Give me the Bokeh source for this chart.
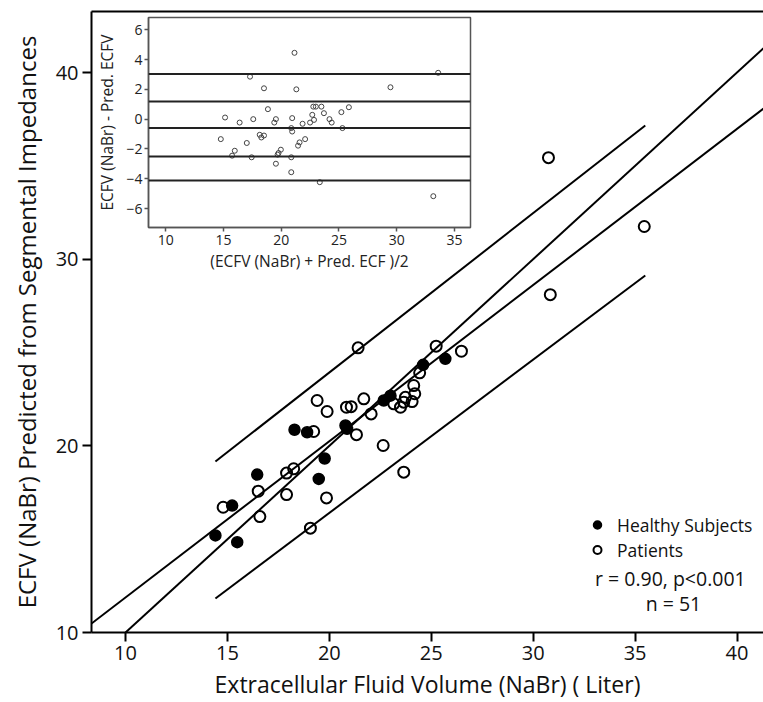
from bokeh.plotting import figure
from bokeh.models import (Range1d, FixedTicker, LinearAxis, Span, Legend,
                          LegendItem, Label)
from bokeh.layouts import column
from bokeh.embed import file_html
from bokeh.resources import INLINE

FONT = "Open Sans"

# ---------------- main scatter data ----------------
healthy_x = [25.69, 24.60, 22.67, 23.00, 20.79, 20.87, 18.29, 18.91, 19.77,
             16.46, 19.48, 15.23, 14.41, 15.48]
healthy_y = [24.66, 24.34, 22.43, 22.69, 21.09, 20.91, 20.86, 20.73, 19.32,
             18.46, 18.23, 16.80, 15.20, 14.84]

patient_x = [21.41, 25.24, 26.48, 24.43, 24.14, 24.19, 24.06, 23.73, 23.65,
             23.49, 23.16, 21.69, 20.84, 21.07, 19.40, 19.89, 22.05, 19.23,
             21.33, 22.64, 23.65, 17.90, 18.25, 16.51, 17.90, 19.86, 14.79,
             16.59, 19.07, 30.75, 35.45, 30.84]
patient_y = [25.25, 25.34, 25.07, 23.91, 23.23, 22.79, 22.37, 22.60, 22.34,
             22.07, 22.25, 22.52, 22.07, 22.10, 22.43, 21.84, 21.71, 20.77,
             20.60, 20.02, 18.59, 18.54, 18.77, 17.57, 17.39, 17.21, 16.71,
             16.21, 15.59, 35.44, 31.75, 28.10]

# lines (end points)
identity_x = [10.0, 41.3]
identity_y = [10.0, 41.3]
regression_x = [8.33, 41.3]
regression_y = [10.48, 38.07]
upper_band_x = [14.41, 35.5]
upper_band_y = [19.16, 37.16]
lower_band_x = [14.41, 35.5]
lower_band_y = [11.82, 29.13]

main_x_ticks = [10, 15, 20, 25, 30, 35, 40]
main_y_ticks = [10, 20, 30, 40]

# ---------------- inset (Bland-Altman) data ----------------
ba_mean = [21.15, 17.30, 18.51, 21.31, 29.46, 33.59, 33.17, 18.85, 15.14,
           16.40, 17.58, 19.54, 19.40, 20.95, 21.85, 22.50, 22.84, 22.78,
           23.00, 23.48, 22.69, 23.70, 24.18, 24.37, 25.21, 25.86, 25.30,
           20.87, 20.95, 14.77, 17.02, 18.14, 18.28, 18.51, 22.07, 21.59,
           21.46, 19.97, 19.77, 19.69, 15.98, 15.75, 17.44, 20.87, 19.54,
           20.87, 23.34]
ba_diff = [4.45, 2.85, 2.07, 2.00, 2.14, 3.11, -5.17, 0.67, 0.11, -0.23,
           0.00, 0.00, -0.23, 0.07, -0.31, -0.23, -0.05, 0.84, 0.84, 0.84,
           0.29, 0.40, 0.00, -0.23, 0.47, 0.80, -0.60, -0.60, -0.83, -1.34,
           -1.60, -1.05, -1.23, -1.10, -1.34, -1.56, -1.78, -2.05, -2.27,
           -2.38, -2.12, -2.45, -2.56, -2.56, -2.99, -3.56, -4.23]
ba_lines = [3.03, 1.18, -0.60, -2.50, -4.12]
ba_x_ticks = [10, 15, 20, 25, 30, 35]
ba_y_ticks = [-6, -4, -2, 0, 2, 4, 6]

# ---------------- main figure ----------------
p = figure(width=763, height=702, output_backend="svg", toolbar_location=None,
           x_range=Range1d(8.33, 41.3), y_range=Range1d(10, 43.27),
           min_border_left=91, min_border_right=0, min_border_top=11,
           min_border_bottom=70)
p.frame_align = False
p.outline_line_color = None
p.grid.visible = False
p.background_fill_color = "white"
p.border_fill_color = "white"

for ax, ticks in ((p.xaxis[0], main_x_ticks), (p.yaxis[0], main_y_ticks)):
    ax.ticker = FixedTicker(ticks=ticks)
    ax.minor_tick_line_color = None
    ax.axis_line_width = 2
    ax.axis_line_color = "black"
    ax.major_tick_line_width = 2
    ax.major_tick_line_color = "black"
    ax.major_tick_out = 9
    ax.major_tick_in = 0
    ax.major_label_text_font = FONT
    ax.major_label_text_font_size = "20px"
    ax.major_label_text_color = "#111111"
    ax.axis_label_text_font = FONT
    ax.axis_label_text_font_style = "normal"
    ax.axis_label_text_color = "#111111"

p.xaxis.axis_label = "Extracellular Fluid Volume (NaBr) ( Liter)"
p.yaxis.axis_label = "ECFV (NaBr) Predicted from Segmental Impedances"
p.xaxis.axis_label_text_font_size = "23px"
p.yaxis.axis_label_text_font_size = "24px"
p.xaxis.major_label_standoff = 4
p.xaxis.axis_label_standoff = 5
p.yaxis.major_label_standoff = 4
p.yaxis.axis_label_standoff = 10

top = LinearAxis(ticker=FixedTicker(ticks=[]), axis_line_width=2,
                 axis_line_color="black", major_tick_out=0, major_tick_in=0,
                 minor_tick_out=0, minor_tick_in=0, major_label_standoff=0,
                 major_label_text_font_size="0px")
p.add_layout(top, "above")

p.line(identity_x, identity_y, line_color="black", line_width=2)
p.line(regression_x, regression_y, line_color="black", line_width=2)
p.line(upper_band_x, upper_band_y, line_color="black", line_width=2)
p.line(lower_band_x, lower_band_y, line_color="black", line_width=2)

r_h = p.scatter(healthy_x, healthy_y, marker="circle", size=11,
                fill_color="black", line_color="black", line_width=1.5)
r_p = p.scatter(patient_x, patient_y, marker="circle", size=11,
                fill_color=None, line_color="black", line_width=2)

legend = Legend(items=[LegendItem(label="Healthy Subjects", renderers=[r_h]),
                       LegendItem(label="Patients", renderers=[r_p])],
                location=(496, 70), padding=0, margin=0, spacing=0,
                glyph_width=20, glyph_height=25, label_height=25,
                label_standoff=10, border_line_color=None,
                background_fill_alpha=0,
                label_text_font=FONT, label_text_font_size="17.5px",
                label_text_color="#111111")
p.add_layout(legend)

p.add_layout(Label(x=36.73, y=12.89, text="r = 0.90, p<0.001",
                   text_align="center", text_baseline="middle",
                   text_font=FONT, text_font_size="19.5px",
                   text_color="#111111"))
p.add_layout(Label(x=36.88, y=11.55, text="n = 51",
                   text_align="center", text_baseline="middle",
                   text_font=FONT, text_font_size="19.5px",
                   text_color="#111111"))

# ---------------- inset figure ----------------
ins = figure(width=379, height=262, output_backend="svg", toolbar_location=None,
             x_range=Range1d(8.51, 36.39), y_range=Range1d(-7.27, 6.82),
             min_border_left=46, min_border_right=2, min_border_top=5,
             min_border_bottom=46,
             styles={"position": "absolute", "left": "93px", "top": "12px"})
ins.frame_align = False
ins.background_fill_color = None
ins.border_fill_color = None
ins.outline_line_color = "#555555"
ins.outline_line_width = 1.5
ins.grid.visible = False

for ax, ticks in ((ins.xaxis[0], ba_x_ticks), (ins.yaxis[0], ba_y_ticks)):
    ax.ticker = FixedTicker(ticks=ticks)
    ax.minor_tick_line_color = None
    ax.axis_line_color = "#555555"
    ax.axis_line_width = 1.5
    ax.major_tick_line_color = "#555555"
    ax.major_tick_line_width = 1.5
    ax.major_tick_out = 4
    ax.major_tick_in = 0
    ax.major_label_text_font = FONT
    ax.major_label_text_font_size = "14px"
    ax.major_label_text_color = "#222222"
    ax.axis_label_text_font = FONT
    ax.axis_label_text_font_size = "15.5px"
    ax.axis_label_text_font_style = "normal"
    ax.axis_label_text_color = "#222222"

ins.xaxis.axis_label = "(ECFV (NaBr) + Pred. ECF )/2"
ins.yaxis.axis_label = "ECFV (NaBr) - Pred. ECFV"
ins.xaxis.major_label_standoff = 3
ins.xaxis.axis_label_standoff = 2
ins.yaxis.major_label_standoff = 2
ins.yaxis.axis_label_standoff = 5

for lv in ba_lines:
    ins.add_layout(Span(location=lv, dimension="width", line_color="#222222",
                        line_width=2))

ins.scatter(ba_mean, ba_diff, marker="circle", size=5, fill_color=None,
            line_color="#444444", line_width=1)

layout = column(p, ins)
open("out.html", "w").write(file_html(layout, INLINE))
